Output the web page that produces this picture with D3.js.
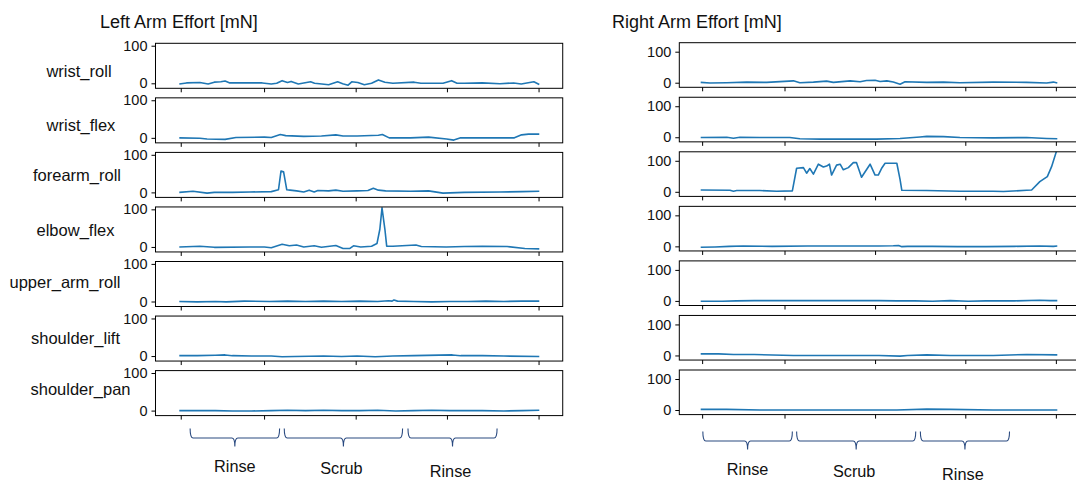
<!DOCTYPE html>
<html>
<head>
<meta charset="utf-8">
<script src="https://cdnjs.cloudflare.com/ajax/libs/d3/7.8.5/d3.min.js"></script>
<style>
  html, body { margin: 0; padding: 0; background: #fff; }
  svg { display: block; font-family: "Liberation Sans", Arial, Helvetica, sans-serif; }
</style>
</head>
<body>
<svg id="chart" width="1076" height="481"></svg>
<script>
// joint names, top to bottom
const joints = ['wrist_roll', 'wrist_flex', 'forearm_roll', 'elbow_flex', 'upper_arm_roll', 'shoulder_lift', 'shoulder_pan'];

// time axis (percent of the episode), tick marks have no labels
const xTicks = [0.4, 23.5, 48.9, 74.2, 99.6];
const yTicks = [0, 100];

// task phases under each column [start, end, label]
const leftPhases = [[3.0, 27.8, 'Rinse'], [29.1, 61.9, 'Scrub'], [63.4, 88.1, 'Rinse']];
const rightPhases = [[0.6, 25.7, 'Rinse'], [26.9, 60.3, 'Scrub'], [61.6, 86.6, 'Rinse']];

// effort series, [time, mN]
const leftWristRoll = [[0,-2],[2,1],[5.7,2],[8,-2],[9.7,3],[11.5,4],[12.7,6],[14,1],[19.6,1],[23,1],[25.5,-2],[27,0],[28.5,7],[30,2],[31,5],[33,-2],[36.4,4],[37.5,0],[39.5,-2],[41.4,-4],[43.9,4],[45.3,-1],[46.8,-5],[47.8,4],[49.5,2],[51.3,-4],[53.3,0],[55.2,9],[57,3],[59.2,0],[65.1,3],[67,0],[73.1,0],[75.5,7],[77,0],[79,0],[84,1],[88.9,-1],[92.7,1],[94.8,-2],[98.3,4],[99.8,-3]];
const leftWristFlex = [[0,0],[5.7,-1],[7.7,-3],[12.7,-4],[15.7,1],[23.6,2],[25.5,1],[28,9],[29.5,6],[34.5,4],[39.4,5],[43.4,8],[45.4,5],[49.3,5],[55.2,7],[56.3,9],[58.2,0],[64.1,0],[69.1,2],[74.1,-3],[76.1,-6],[78,0],[84,0],[92.9,0],[94.9,8],[96.8,10],[99.8,10]];
const leftForearmRoll = [[0,0],[3.8,3],[7.7,-2],[9.7,0],[14.7,0],[19.6,1],[25.5,2],[27.5,7],[28.2,57],[28.9,55],[29.8,7],[30.7,6],[32.5,4],[34.5,1],[36,6],[37.4,1],[38.4,5],[41.4,4],[43.4,6],[45.4,3],[49.3,4],[52.3,5],[53.8,11],[55.2,6],[57.2,4],[64.1,3],[69.1,4],[73.1,-2],[79,0],[88.9,1],[94.9,2],[99.8,3]];
const leftElbowFlex = [[0,0],[5.7,2],[9.7,-1],[19.6,0],[23.6,0],[25.5,-2],[28.5,7],[30.5,3],[32.5,5],[34.5,0],[37.4,3],[39.4,-1],[43.4,4],[45.4,-4],[47.3,-4],[48.3,3],[50.3,0],[53.3,2],[54.8,9],[55.6,47],[56.2,104],[57,47],[57.5,2],[59.2,2],[65.6,5],[67.1,1],[74,0],[79,1],[84,2],[90.9,1],[95.8,-4],[99.8,-5]];
const leftUpperArmRoll = [[0,0],[5,-1],[10,0],[13,-1],[18,1],[25,0],[30,1],[35,0],[40,1],[45,0],[50,1],[55,0],[58,2],[59,1],[59.5,4],[60.5,1],[65,0],[70,-1],[75,0],[80,0],[85,1],[90,0],[95,1],[99.8,1]];
const leftShoulderLift = [[0,1],[5,1],[10,2],[12.7,3],[14.7,1],[20,0],[25.5,0],[28.5,-2],[32,-1],[40,0],[45,-1],[49.3,0],[54.3,-2],[56,-1],[59.2,0],[65,1],[75.7,3],[78,1],[84,1],[90,0],[99.8,-1]];
const leftShoulderPan = [[0,0],[5,0],[10,0],[14.7,-1],[20,-1],[25.5,0],[30,1],[35,0],[40,1],[45,0],[50,0],[55,1],[60,-1],[65,0],[70,1],[75,0],[80,0],[84,0],[90,-1],[95,0],[99.8,1]];

const rightWristRoll = [[0,1],[2.6,-1],[7.3,0],[12.9,2],[18.5,1],[26,6],[27.8,0],[31.6,2],[35.3,5],[37.2,1],[41.9,6],[44.7,3],[46.5,7],[48.9,8],[50.3,4],[52.2,6],[54,2],[55.9,-5],[57.3,3],[63.4,1],[68.1,2],[72.7,0],[82,2],[91.4,1],[97,-1],[98.9,2],[100,-1]];
const rightWristFlex = [[0,-1],[7.3,0],[9.2,-3],[11,0],[16.6,-1],[25,-1],[27.8,-5],[33.5,-6],[40,-6],[49.3,-6],[55.9,-4],[61.5,1],[63.4,3],[68.1,2],[72.7,-1],[82,-2],[91.4,-1],[97,-4],[100,-5]];
const rightForearmRoll = [[0,6],[8.2,5],[9.2,2],[10.1,4],[16.6,4],[21.3,2],[25.7,3],[26.9,76],[28.8,78],[29.7,60],[30.6,75],[31.6,57],[33.0,89],[34.4,80],[35.3,83],[36.1,89],[36.7,54],[38.1,86],[39.1,89],[40.0,71],[41.4,78],[42.8,94],[43.7,94],[45.1,47],[47.5,89],[48.9,54],[49.8,54],[50.7,75],[51.7,92],[55.0,92],[55.9,40],[56.4,5],[63.4,4],[72.7,2],[82,2],[84.9,1],[91.4,5],[92.8,6],[95.1,33],[97.2,49],[98.4,81],[99.8,132]];
const rightElbowFlex = [[0,-3],[4,-2],[8,0],[12,1],[20,0],[30,1],[40,1],[50,1],[54,2],[55.5,3],[56.4,-1],[58,0],[65,0],[72,-1],[80,-1],[88,0],[95,1],[98.9,0],[100,1]];
const rightUpperArmRoll = [[0,-1],[6,-1],[10,0],[15,1],[20,1],[30,1],[40,1],[50,1],[55,0],[60,0],[65,-1],[70,1],[75,-1],[80,0],[88,0],[95,2],[98,1],[100,1]];
const rightShoulderLift = [[0,5],[5,5],[9.2,3],[15,3],[26,0],[35,0],[44,0],[50,0],[55.9,-2],[58,0],[63.4,2],[70,0],[82,0],[91.4,3],[100,2]];
const rightShoulderPan = [[0,2],[7.3,2],[16.6,0],[25,0],[40,0],[55,0],[63.4,3],[70,2],[82,0],[91.4,0],[100,0]];

const leftSeries = [leftWristRoll, leftWristFlex, leftForearmRoll, leftElbowFlex, leftUpperArmRoll, leftShoulderLift, leftShoulderPan];
const rightSeries = [rightWristRoll, rightWristFlex, rightForearmRoll, rightElbowFlex, rightUpperArmRoll, rightShoulderLift, rightShoulderPan];

// where the joint names sit (centre x, shift from the panel middle)
const labelCenterX = [79, 81, 77, 75.5, 65, 75.5, 80.5];
const labelShiftY = [7, 6, 2, 2, 0, 1, -2];

const svg = d3.select('#chart');
const lineColor = '#1f77b4';
const braceColor = '#2a4a80';

// one column of stacked panels
function drawColumn(opts) {
    const x = d3.scaleLinear().domain([0, 100]).range(opts.dataRange);
    const frameX0 = x(opts.xPad[0]);
    const frameX1 = x(opts.xPad[1]);

    svg.append('text')
        .attr('x', opts.titleX)
        .attr('y', 27.5)
        .attr('font-size', 18)
        .attr('fill', '#111')
        .text(opts.title);

    opts.series.forEach((data, i) => {
        const top = opts.top + i * opts.pitch;
        const bottom = top + opts.height;
        const y = d3.scaleLinear().domain(opts.yDomain).range([bottom, top]);
        const g = svg.append('g');

        const clipId = opts.id + '-clip-' + i;
        svg.append('clipPath').attr('id', clipId)
            .append('rect')
            .attr('x', frameX0).attr('y', top)
            .attr('width', frameX1 - frameX0).attr('height', opts.height);

        const line = d3.line().x(d => x(d[0])).y(d => y(d[1]));
        g.append('path')
            .datum(data)
            .attr('d', line)
            .attr('clip-path', 'url(#' + clipId + ')')
            .attr('fill', 'none')
            .attr('stroke', lineColor)
            .attr('stroke-width', 1.6)
            .attr('stroke-linejoin', 'round');

        // y axis
        const yAxis = g.append('g')
            .attr('transform', 'translate(' + frameX0 + ',0)')
            .call(d3.axisLeft(y).tickValues(yTicks).tickSize(4).tickPadding(4));
        yAxis.select('.domain').remove();
        yAxis.selectAll('text').attr('font-size', 14.5).attr('fill', '#111').attr('font-family', null);

        // x axis, ticks only
        const xAxis = g.append('g')
            .attr('transform', 'translate(0,' + bottom + ')')
            .call(d3.axisBottom(x).tickValues(xTicks).tickSize(4).tickFormat(''));
        xAxis.select('.domain').remove();

        g.append('rect')
            .attr('x', frameX0).attr('y', top)
            .attr('width', frameX1 - frameX0).attr('height', opts.height)
            .attr('fill', 'none')
            .attr('stroke', '#000')
            .attr('stroke-width', 1);

        if (opts.labels) {
            svg.append('text')
                .attr('x', labelCenterX[i])
                .attr('y', (top + bottom) / 2 + labelShiftY[i])
                .attr('text-anchor', 'middle')
                .attr('dominant-baseline', 'middle')
                .attr('font-size', 16.5)
                .attr('fill', '#111')
                .text(joints[i]);
        }
    });

    // phase braces
    opts.phases.forEach((p, k) => {
        const x0 = x(p[0]), x1 = x(p[1]), mid = (x0 + x1) / 2;
        const t = opts.braceTop, l = t + 9.5, tip = l + 8.5;
        const path = 'M' + x0 + ',' + t +
            ' Q' + x0 + ',' + l + ' ' + (x0 + 3) + ',' + l +
            ' L' + (mid - 3) + ',' + l +
            ' Q' + mid + ',' + l + ' ' + mid + ',' + tip +
            ' Q' + mid + ',' + l + ' ' + (mid + 3) + ',' + l +
            ' L' + (x1 - 3) + ',' + l +
            ' Q' + x1 + ',' + l + ' ' + x1 + ',' + t;
        svg.append('path')
            .attr('d', path)
            .attr('fill', 'none')
            .attr('stroke', braceColor)
            .attr('stroke-width', 1.1);
        svg.append('text')
            .attr('x', mid - (k === 0 ? 0 : 2))
            .attr('y', opts.phaseBase + k * 1.5 + (k === 2 ? 1.5 : 0))
            .attr('text-anchor', 'middle')
            .attr('font-size', 16.3)
            .attr('fill', '#111')
            .text(p[2]);
    });
}

drawColumn({
    id: 'left', title: 'Left Arm Effort [mN]', titleX: 100,
    series: leftSeries, dataRange: [179.3, 540], xPad: [-6.6, 106.3],
    top: 43.3, pitch: 54.55, height: 45, yDomain: [-13.3, 106.4],
    labels: true, phases: leftPhases, braceTop: 428.5, phaseBase: 472
});

drawColumn({
    id: 'right', title: 'Right Arm Effort [mN]', titleX: 612,
    series: rightSeries, dataRange: [700.7, 1057.3], xPad: [-6, 106.3],
    top: 42.7, pitch: 54.55, height: 44.6, yDomain: [-14.8, 129],
    labels: false, phases: rightPhases, braceTop: 431.5, phaseBase: 475
});
</script>
</body>
</html>
